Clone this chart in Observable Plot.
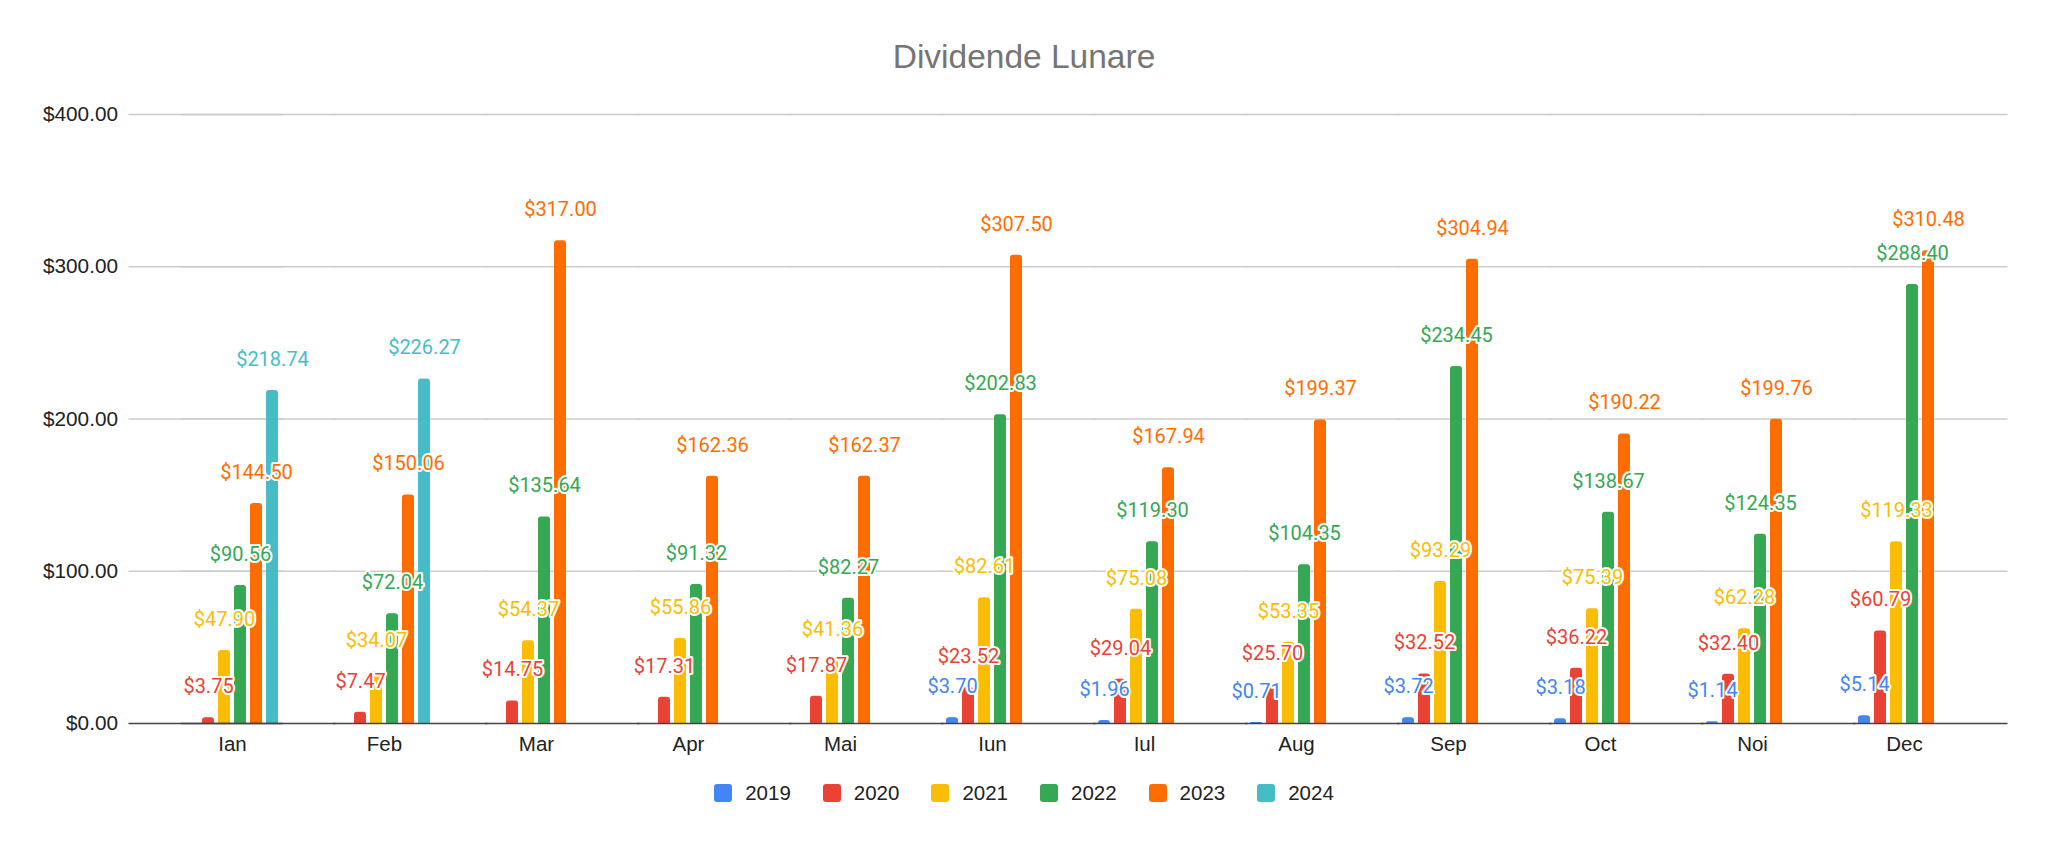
<!DOCTYPE html>
<html>
<head>
<meta charset="utf-8">
<script src="https://cdn.jsdelivr.net/npm/d3@7"></script>
<script src="https://cdn.jsdelivr.net/npm/@observablehq/plot@0.6"></script>
<style>
  html, body { margin: 0; padding: 0; background: #fff; }
  body { width: 2048px; height: 845px; overflow: hidden; font-family: "Liberation Sans", Arial, sans-serif; }
  #title { text-align: center; font-size: 33.5px; line-height: 38px; padding-top: 38px; height: 38px; margin-bottom: 14px; color: #757575; }
  #chart { height: 673px; }
  #legend { display: flex; justify-content: center; align-items: center; height: 60px; font-size: 20.5px; color: #222; }
  .item { display: flex; align-items: center; margin: 0 16px; }
  .sw { width: 18px; height: 18px; border-radius: 3px; margin-right: 13px; }
</style>
</head>
<body>
<div id="title">Dividende Lunare</div>
<div id="chart"></div>
<div id="legend"></div>
<script>
const months = ["Ian","Feb","Mar","Apr","Mai","Iun","Iul","Aug","Sep","Oct","Noi","Dec"];
const years = ["2019","2020","2021","2022","2023","2024"];
const colors = ["#4285F4","#EA4335","#FBBC04","#34A853","#FF6D01","#46BDC6"];
const yTicks = [0, 100, 200, 300, 400];

const v2019 = [null, null, null, null, null, 3.70, 1.96, 0.71, 3.72, 3.18, 1.14, 5.14];
const v2020 = [3.75, 7.47, 14.75, 17.31, 17.87, 23.52, 29.04, 25.70, 32.52, 36.22, 32.40, 60.79];
const v2021 = [47.90, 34.07, 54.37, 55.86, 41.36, 82.61, 75.08, 53.35, 93.29, 75.39, 62.28, 119.33];
const v2022 = [90.56, 72.04, 135.64, 91.32, 82.27, 202.83, 119.30, 104.35, 234.45, 138.67, 124.35, 288.40];
const v2023 = [144.50, 150.06, 317.00, 162.36, 162.37, 307.50, 167.94, 199.37, 304.94, 190.22, 199.76, 310.48];
const v2024 = [218.74, 226.27, null, null, null, null, null, null, null, null, null, null];

const series = [v2019, v2020, v2021, v2022, v2023, v2024];
const rows = [];
series.forEach((vals, i) => vals.forEach((v, j) => {
  if (v != null) rows.push({month: months[j], year: years[i], value: v});
}));
const money = v => "$" + v.toFixed(2);
const gridVals = yTicks.filter(d => d > 0);
const ext = 52.5; // extends grid across the gaps between month groups

const chart = Plot.plot({
  width: 2048,
  height: 673,
  marginTop: 24,
  marginBottom: 40,
  marginLeft: 128,
  marginRight: 41,
  style: {fontFamily: "'Liberation Sans', Arial, sans-serif", fontSize: "20px", color: "#222", background: "#fff"},
  fx: {domain: months, paddingInner: 0.329, paddingOuter: 0.3445, label: null},
  x: {domain: years, paddingInner: 0.235, paddingOuter: 0.118, axis: null},
  y: {domain: [0, 400]},
  color: {domain: years, range: colors},
  marks: [
    Plot.ruleY(gridVals, {stroke: "#cccccc", strokeWidth: 1.3, insetRight: -ext}),
    Plot.ruleY(gridVals, {fx: () => months[0], stroke: "#cccccc", strokeWidth: 1.3, insetLeft: -ext}),
    Plot.axisY({ticks: yTicks, tickFormat: money, tickSize: 0, tickPadding: 11 + ext, fontSize: 20.75, fill: "#222", label: null}),
    Plot.barY(rows, {fx: "month", x: "year", y: "value", fill: "year", ry1: 3}),
    Plot.ruleY([0], {stroke: "#444", strokeWidth: 1.6, insetRight: -ext}),
    Plot.ruleY([0], {fx: () => months[0], stroke: "#444", strokeWidth: 1.6, insetLeft: -ext}),
    Plot.text(rows, {fx: "month", x: "year", y: "value", text: d => money(d.value), fill: "year",
      stroke: "white", strokeWidth: 4, paintOrder: "stroke", dy: -31, fontSize: 20, fontFamily: "Roboto"}),
    Plot.axisFx({anchor: "bottom", tickSize: 0, tickPadding: 13, fontSize: 20.5, label: null, fill: "#222"})
  ]
});
document.getElementById("chart").appendChild(chart);

const legend = document.getElementById("legend");
years.forEach((y, i) => {
  const it = document.createElement("div");
  it.className = "item";
  const sw = document.createElement("div");
  sw.className = "sw";
  sw.style.background = colors[i];
  const t = document.createElement("span");
  t.textContent = y;
  it.appendChild(sw); it.appendChild(t);
  legend.appendChild(it);
});
</script>
</body>
</html>
